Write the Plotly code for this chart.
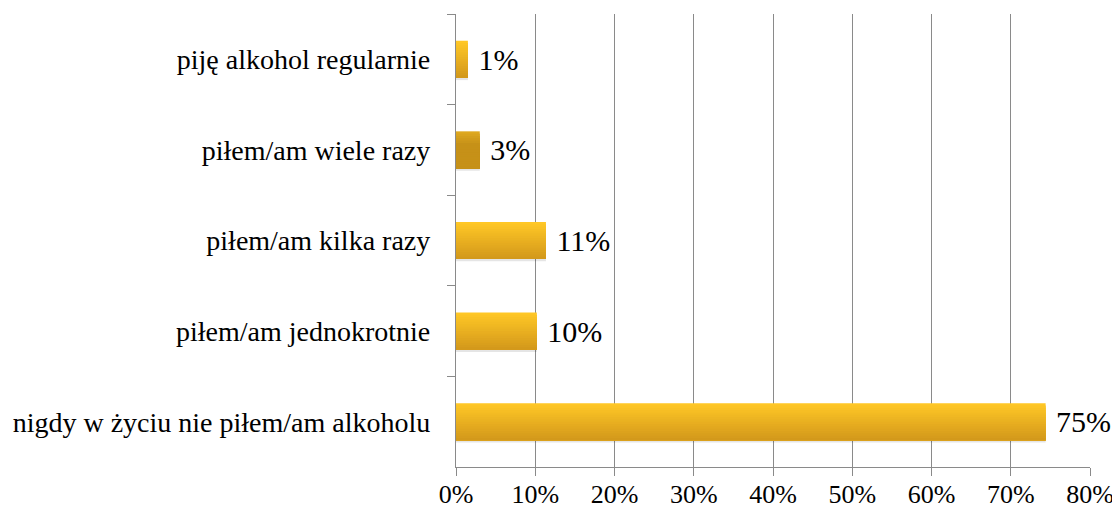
import plotly.graph_objects as go

categories = [
    "piję alkohol regularnie",
    "piłem/am wiele razy",
    "piłem/am kilka razy",
    "piłem/am jednokrotnie",
    "nigdy w życiu nie piłem/am alkoholu",
]
values = [1.5, 3.0, 11.35, 10.2, 74.4]
labels = ["1%", "3%", "11%", "10%", "75%"]
tick_vals = [0, 10, 20, 30, 40, 50, 60, 70, 80]
tick_text = ["0%", "10%", "20%", "30%", "40%", "50%", "60%", "70%", "80%"]

FONT = "Liberation Serif"
N = 16
BW = 0.41
GRID = "#8a8a8a"

def lerp(c1, c2, t):
    return "rgb(%d,%d,%d)" % tuple(round(a + (b - a) * t) for a, b in zip(c1, c2))

normal_top, normal_bot = (255, 199, 38), (211, 153, 27)
dark_top, dark_bot = (222, 168, 32), (198, 145, 24)

fig = go.Figure()
# soft shadow
fig.add_trace(go.Bar(
    y=categories, x=values, orientation="h", width=BW, offset=-BW / 2 + 0.025,
    marker=dict(color="rgba(0,0,0,0.10)", line=dict(width=0)),
    hoverinfo="skip", showlegend=False,
))
# gradient fill: each layer starts lower and runs to the bar bottom
for k in range(N):
    t = k / (N - 1)
    cols = []
    for i in range(len(categories)):
        if i == 1:
            cols.append(lerp(dark_top, dark_bot, min(1, t * 3)))
        else:
            cols.append(lerp(normal_top, normal_bot, t))
    start = -BW / 2 + k * BW / N
    fig.add_trace(go.Bar(
        y=categories, x=values, orientation="h",
        width=BW / 2 - start, offset=start,
        marker=dict(color=cols, line=dict(width=0)),
        hoverinfo="skip", showlegend=False,
    ))
# value labels
fig.add_trace(go.Bar(
    y=categories, x=values, orientation="h", width=BW, offset=-BW / 2,
    marker=dict(color="rgba(0,0,0,0)", line=dict(width=0)),
    text=labels, texttemplate=" %{text}", textposition="outside", cliponaxis=False,
    textfont=dict(family=FONT, size=30, color="#000000"),
    hoverinfo="skip", showlegend=False,
))

# page body has an 8px margin: figure origin sits at (8, 8) in the window
fig.update_layout(
    width=1112, height=504,
    margin=dict(l=448, r=30, t=6, b=45),
    plot_bgcolor="white", paper_bgcolor="white",
    barmode="overlay",
    font=dict(family=FONT, size=28, color="#000000"),
    showlegend=False,
)
fig.update_xaxes(
    range=[0, 80], tickvals=tick_vals, ticktext=tick_text,
    showgrid=True, gridcolor=GRID, gridwidth=1.3,
    showline=True, linecolor=GRID, linewidth=1.3,
    ticks="outside", ticklen=8, tickcolor=GRID, tickwidth=1.3,
    tickfont=dict(family=FONT, size=26, color="#000000"),
    ticklabelstandoff=-4,
    zeroline=False, automargin=False,
)
fig.update_yaxes(
    categoryorder="array", categoryarray=categories, autorange="reversed",
    showline=True, linecolor=GRID, linewidth=1.3,
    ticks="outside", ticklen=8, tickcolor=GRID, tickwidth=1.3,
    tickson="boundaries", showgrid=False,
    tickfont=dict(family=FONT, size=28, color="#000000"),
    ticklabelstandoff=19, automargin=False,
)

fig.write_html("out.html")
